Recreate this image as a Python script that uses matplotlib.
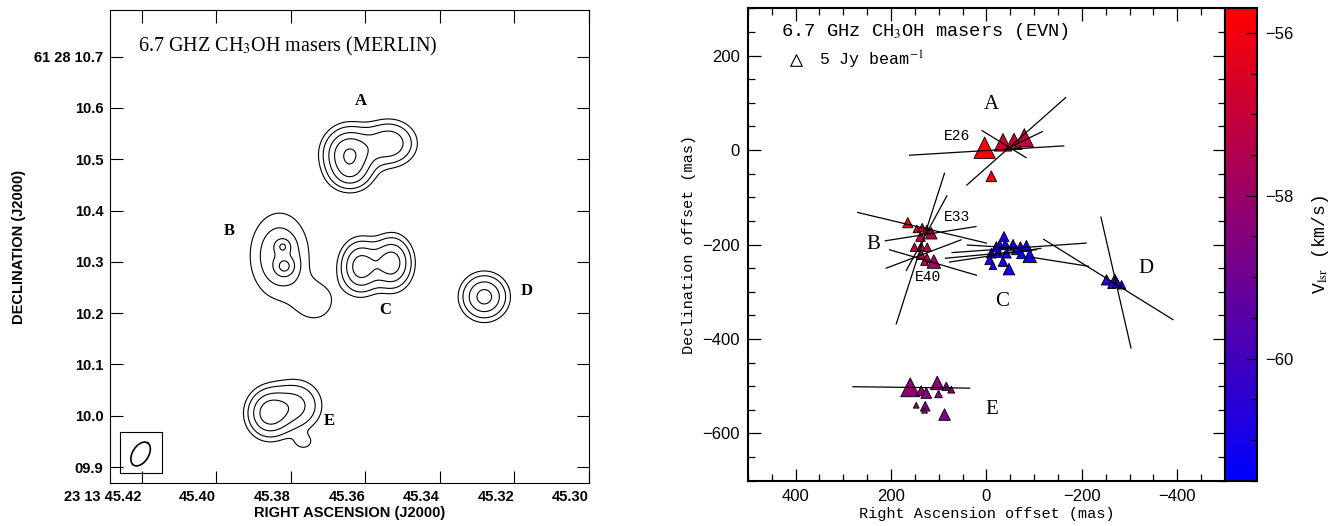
import numpy as np
import matplotlib
matplotlib.use("Agg")
import matplotlib.pyplot as plt
from matplotlib.colors import LinearSegmentedColormap, Normalize
from matplotlib.patches import Rectangle
from matplotlib.ticker import MultipleLocator

plt.rcParams["mathtext.fontset"] = "stix"

# ---------------- MERLIN map (left): source components ----------------
# RA in seconds (23h13m), Dec in arcsec (61d28m), peak (relative), sigma in arcsec
comp_ra = [45.3643, 45.3536, 45.3640, 45.3821, 45.3816, 45.3830, 45.3734,
           45.3612, 45.3528, 45.3280, 45.3858, 45.3786, 45.3765]
comp_dec = [10.5097, 10.531, 10.468, 10.330, 10.291, 10.312, 10.2225,
            10.2906, 10.298, 10.232, 10.005, 10.020, 9.9484]
comp_peak = [0.72, 0.42, 0.20, 0.26, 0.31, 0.24, 0.13,
             0.56, 0.56, 0.52, 0.55, 0.32, 0.10]
comp_sx = [0.028, 0.030, 0.025, 0.010, 0.013, 0.038, 0.030,
           0.0228, 0.0228, 0.026, 0.025, 0.030, 0.015]
comp_sy = [0.030, 0.026, 0.020, 0.010, 0.013, 0.056, 0.030,
           0.030, 0.030, 0.026, 0.028, 0.030, 0.012]
contour_levels = [0.08, 0.15, 0.28, 0.45, 0.70]

merlin_labels = ["A", "B", "C", "D", "E"]
merlin_label_ra = [45.3612, 45.3966, 45.3545, 45.3165, 45.3695]
merlin_label_dec = [10.614, 10.361, 10.206, 10.244, 9.990]

beam_ra, beam_dec = 45.4203, 9.9255
beam_maj, beam_min, beam_pa = 0.051, 0.031, -31.5   # arcsec, arcsec, deg

ra_ticks = [45.42, 45.40, 45.38, 45.36, 45.34, 45.32, 45.30]
ra_ticklabels = ["23 13 45.42", "45.40", "45.38", "45.36", "45.34", "45.32", "45.30"]
dec_ticks = [9.9, 10.0, 10.1, 10.2, 10.3, 10.4, 10.5, 10.6, 10.7]
dec_ticklabels = ["09.9", "10.0", "10.1", "10.2", "10.3", "10.4", "10.5", "10.6", "61 28 10.7"]

# ---------------- EVN spots (right) ----------------
spot_x = [3.8, -34.7, -57.8, -79.5, -10.3,
          164.8, 145.9, 134.6, 124.9, 115.7, 138.2, 150.8, 136.7, 124.1, 136.7, 124.9, 110.2, 129.8,
          -36.8, -27.7, -39.7, -55.7, -71.2, -83.8, -90.7, -10.3, -24.2, -41.8, -6.7, -13.7, -47.2,
          -34.7, -62.8, -20.8, -73.3,
          -251.8, -269.2, -262.3, -283.3, -274.0,
          159.8, 136.7, 126.2, 103.1, 84.2, 73.7, 100.4, 147.2, 128.3, 129.8, 87.8]
spot_y = [4.9, 16.3, 18.4, 26.0, -55.6,
          -153.6, -166.9, -164.2, -169.0, -176.0, -183.2, -205.6, -204.3, -205.6, -221.8, -228.8, -236.0, -236.0,
          -183.2, -200.7, -199.3, -200.7, -204.3, -202.8, -224.0, -218.3, -217.0, -218.3, -232.4, -245.0, -252.0,
          -236.0, -211.3, -204.3, -219.7,
          -274.7, -276.8, -285.2, -285.2, -281.7,
          -502.2, -509.2, -514.1, -493.0, -500.1, -507.1, -516.2, -540.2, -542.3, -550.8, -559.9]
spot_flux = [16.8, 11.3, 9.8, 12.3, 4.3,
             4.0, 2.2, 2.7, 3.4, 5.0, 3.4, 2.7, 2.7, 2.7, 3.4, 3.4, 6.8, 2.2,
             3.8, 3.5, 3.5, 4.4, 3.5, 4.4, 6.8, 3.5, 3.5, 3.5, 3.5, 2.2, 5.0,
             3.5, 3.5, 3.5, 3.5,
             4.0, 6.8, 2.2, 2.7, 3.5,
             13.3, 3.5, 4.4, 6.8, 2.7, 1.8, 2.2, 1.25, 3.5, 1.25, 5.0]
spot_vlsr = [-55.7, -56.8, -56.9, -57.0, -55.8,
             -56.1, -57.0, -57.1, -57.3, -57.6, -57.3, -57.2, -57.2, -57.3, -57.3, -57.4, -57.7, -57.4,
             -61.0, -61.0, -61.1, -61.1, -61.0, -61.1, -61.2, -60.9, -61.0, -61.1, -60.9, -61.0, -61.1,
             -61.0, -61.1, -61.0, -61.1,
             -60.4, -60.5, -60.4, -60.6, -60.5,
             -58.3, -58.3, -58.4, -58.3, -58.5, -58.5, -58.4, -58.6, -58.5, -58.6, -58.6]

# polarisation vectors: centre (mas), length (mas), position angle (deg E of N)
vec_x = [-0.5, -62.5, -37.0, -81.0,
         138.5, 125.5, 135.0, 117.0, 112.0, 131.5,
         -68.5, -9.5, -18.5, -10.0, -154.5, -255.5, -271.5, 157.5]
vec_y = [-1.0, 18.5, 12.5, 21.5,
         -208.5, -176.0, -164.5, -177.0, -238.0, -220.0,
         -207.0, -220.0, -222.5, -204.0, -236.5, -274.0, -280.5, -502.5]
vec_len = [323.6, 277.6, 108.2, 80.0,
           334.6, 179.4, 277.7, 192.4, 189.8, 168.0,
           281.7, 191.8, 193.2, 100.2, 120.5, 319.9, 284.1, 245.0]
vec_pa = [93.5, -48.2, 58.2, -64.1,
          -17.6, -28.3, 76.5, -81.0, 73.5, -69.1,
          -85.9, -84.6, -81.4, 86.6, 80.9, 57.9, 12.8, 89.3]

evn_labels = ["A", "B", "C", "D", "E"]
evn_label_x = [-10.9, 237.0, -31.8, -333.6, -11.8]
evn_label_y = [96.5, -200.7, -320.4, -250.7, -549.3]
spot_names = ["E26", "E33", "E40"]
spot_name_x = [60.9, 60.9, 122.7]
spot_name_y = [29.6, -140.8, -269.7]

vmin, vmax = -61.5, -55.7
legend_flux = 5.0
size_per_jy = 14.0

fig = plt.figure(figsize=(13.37, 5.26), dpi=100)

# ===================== left panel =====================
ax1 = fig.add_axes([0.0826, 0.0812, 0.3576, 0.8998])
ras_per_arcsec = 15 * np.cos(np.radians(61.47))   # arcsec per second of RA

gra = np.linspace(45.30, 45.4284, 600)
gdec = np.linspace(9.868, 10.791, 600)
RA, DEC = np.meshgrid(gra, gdec)
field = np.zeros_like(RA)
for r0, d0, p, sx, sy in zip(comp_ra, comp_dec, comp_peak, comp_sx, comp_sy):
    dx = (RA - r0) * ras_per_arcsec
    dy = DEC - d0
    field += p * np.exp(-0.5 * ((dx / sx) ** 2 + (dy / sy) ** 2))

ax1.contour(RA, DEC, field, levels=contour_levels, colors="k", linewidths=0.8)

# restoring beam
t = np.linspace(0, 2 * np.pi, 200)
pa = np.radians(beam_pa)
a, b = beam_maj / 2, beam_min / 2
east = a * np.cos(t) * np.sin(pa) + b * np.sin(t) * np.cos(pa)
north = a * np.cos(t) * np.cos(pa) - b * np.sin(t) * np.sin(pa)
ax1.plot(beam_ra + east / ras_per_arcsec, beam_dec + north, color="k", lw=1.2)
ax1.add_patch(Rectangle((45.4145, 9.888), 0.0112, 0.080, fill=False, ec="k", lw=0.8))

for lab, x, y in zip(merlin_labels, merlin_label_ra, merlin_label_dec):
    ax1.text(x, y, lab, family="Liberation Serif", weight="bold", fontsize=12,
             ha="center", va="center")
ax1.text(45.421, 10.7195, "6.7 GHZ CH$_3$OH masers (MERLIN)", family="Liberation Serif",
         fontsize=14.5, ha="left", va="center")

ax1.set_xlim(45.4284, 45.30)
ax1.set_ylim(9.8684, 10.791)
ax1.set_xticks(ra_ticks)
ax1.set_xticklabels(ra_ticklabels, ha="right")
ax1.set_yticks(dec_ticks)
ax1.set_yticklabels(dec_ticklabels)
ax1.tick_params(direction="in", length=9, width=0.8, top=True, right=True, pad=5)
for lab in ax1.get_xticklabels() + ax1.get_yticklabels():
    lab.set_family("Liberation Sans")
    lab.set_weight("bold")
    lab.set_fontsize(10.5)
for s in ax1.spines.values():
    s.set_linewidth(0.8)
ax1.set_xlabel("RIGHT ASCENSION (J2000)", family="Liberation Sans", weight="bold",
               fontsize=10.5, labelpad=1)
ax1.set_ylabel("DECLINATION (J2000)", family="Liberation Sans", weight="bold",
               fontsize=10.5, labelpad=6)

# ===================== right panel =====================
ax2 = fig.add_axes([0.5594, 0.0861, 0.3568, 0.898])
cmap = LinearSegmentedColormap.from_list("br", [(0, 0, 1), (1, 0, 0)])
norm = Normalize(vmin=vmin, vmax=vmax)

for cx, cy, ln, ang in zip(vec_x, vec_y, vec_len, vec_pa):
    th = np.radians(ang)
    dx, dy = 0.5 * ln * np.sin(th), 0.5 * ln * np.cos(th)
    ax2.plot([cx - dx, cx + dx], [cy - dy, cy + dy], color="k", lw=0.9, zorder=3)

sc = ax2.scatter(spot_x, spot_y, c=spot_vlsr, cmap=cmap, norm=norm, marker="^",
                 s=np.array(spot_flux) * size_per_jy, edgecolors="k", linewidths=0.6, zorder=2)

ax2.scatter([400], [191.5], marker="^", s=legend_flux * size_per_jy, facecolors="white",
            edgecolors="k", linewidths=0.8)
ax2.text(350, 191.5, "5 Jy beam$^{-1}$", family="Liberation Mono", fontsize=12, va="center")
ax2.text(430, 250, "6.7 GHz CH$_3$OH masers (EVN)", family="Liberation Mono", fontsize=13.5,
         va="center")

for lab, x, y in zip(evn_labels, evn_label_x, evn_label_y):
    ax2.text(x, y, lab, family="Liberation Serif", fontsize=15, ha="center", va="center")
for lab, x, y in zip(spot_names, spot_name_x, spot_name_y):
    ax2.text(x, y, lab, family="Liberation Mono", fontsize=10.5, ha="center", va="center")

ax2.set_xlim(500, -500)
ax2.set_ylim(-700, 300)
ax2.xaxis.set_major_locator(MultipleLocator(200))
ax2.xaxis.set_minor_locator(MultipleLocator(50))
ax2.yaxis.set_major_locator(MultipleLocator(200))
ax2.yaxis.set_minor_locator(MultipleLocator(50))
ax2.tick_params(which="both", direction="in", top=True, right=True, width=0.9)
ax2.tick_params(which="major", length=9, labelsize=12, pad=6)
ax2.tick_params(which="minor", length=5)
for lab in ax2.get_xticklabels() + ax2.get_yticklabels():
    lab.set_family("Liberation Sans")
for s in ax2.spines.values():
    s.set_linewidth(1.5)
ax2.set_xlabel("Right Ascension offset (mas)", family="Liberation Mono", fontsize=11, labelpad=2)
ax2.set_ylabel("Declination offset (mas)", family="Liberation Mono", fontsize=11, labelpad=4)

cax = fig.add_axes([0.9162, 0.0861, 0.0236, 0.898])
cb = fig.colorbar(sc, cax=cax)
cb.set_ticks([-56, -58, -60])
cb.set_ticklabels(["\u221256", "\u221258", "\u221260"])
cb.ax.yaxis.set_minor_locator(MultipleLocator(0.5))
cb.ax.tick_params(which="both", direction="in", right=True, left=False, width=0.9)
cb.ax.tick_params(which="major", length=8, labelsize=12, pad=6)
cb.ax.tick_params(which="minor", length=4)
for lab in cb.ax.get_yticklabels():
    lab.set_family("Liberation Sans")
cb.outline.set_linewidth(1.5)
cb.set_label("V$_{\\mathrm{lsr}}$ (km/s)", family="Liberation Mono", fontsize=13, labelpad=12)

fig.savefig("out.png", dpi=100)
